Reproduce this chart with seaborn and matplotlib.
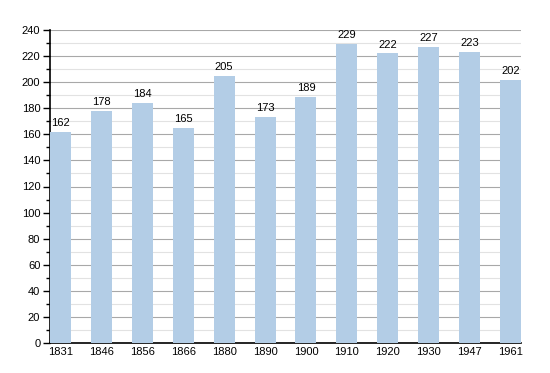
import seaborn as sns
import matplotlib.pyplot as plt
from matplotlib.ticker import MultipleLocator

# Population by census year
years = ['1831', '1846', '1856', '1866', '1880', '1890', '1900', '1910', '1920', '1930', '1947', '1961']
population = [162, 178, 184, 165, 205, 173, 189, 229, 222, 227, 223, 202]

plt.rcParams['font.family'] = ['Liberation Sans', 'DejaVu Sans']

fig = plt.figure(figsize=(5.5, 3.73), dpi=100)
ax = fig.add_axes([50 / 550, 30 / 373, 471 / 550, 313 / 373])

bar_w = 0.514
sns.barplot(x=years, y=population, color='#b3cde6', saturation=1, width=bar_w, ax=ax, zorder=3)

ax.set_xlim(-bar_w / 2, len(years) - 1 + bar_w / 2)
ax.set_ylim(0, 240)
ax.yaxis.set_major_locator(MultipleLocator(20))
ax.yaxis.set_minor_locator(MultipleLocator(10))
ax.grid(axis='y', which='major', color='#a8a8a8', linewidth=0.8, zorder=0)
ax.grid(axis='y', which='minor', color='#e2e2e2', linewidth=0.8, zorder=0)
ax.set_axisbelow(True)

for s in ['top', 'right']:
    ax.spines[s].set_visible(False)
ax.spines['left'].set_linewidth(1.2)
ax.spines['bottom'].set_linewidth(1.2)

ax.tick_params(axis='y', which='major', length=5, width=1, labelsize=8, pad=2)
ax.tick_params(axis='y', which='minor', length=3, width=1)
ax.tick_params(axis='x', length=0, labelsize=8, pad=3)
ax.set_xlabel('')
ax.set_ylabel('')

for i, v in enumerate(population):
    ax.text(i, v + 3, str(v), ha='center', va='bottom', fontsize=8)

fig.savefig('out.png', dpi=100)
